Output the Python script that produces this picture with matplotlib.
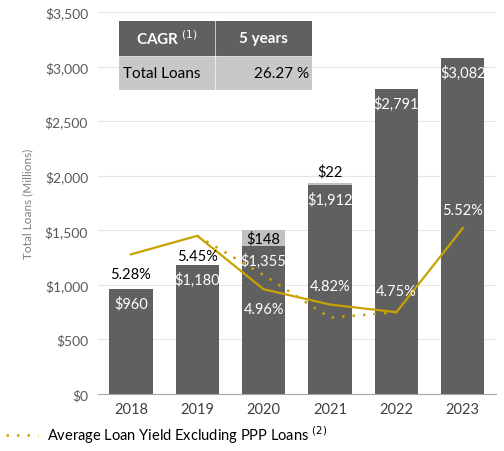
import matplotlib.pyplot as plt
from matplotlib.lines import Line2D
from matplotlib.ticker import FuncFormatter

plt.rcParams['font.family'] = ['Lato', 'DejaVu Sans']

years = ['2018', '2019', '2020', '2021', '2022', '2023']
loans = [960, 1180, 1355, 1912, 2791, 3082]
ppp_loans = [0, 0, 148, 22, 0, 0]
loan_yield = [5.28, 5.45, 4.96, 4.82, 4.75, 5.52]
yield_ex_ppp_years = ['2019', '2020', '2021', '2022']
yield_ex_ppp = [5.45, 5.09, 4.70, 4.75]

cagr_header = ['CAGR $^{(1)}$', '5 years']
cagr_row = ['Total Loans', '26.27 %']

bar_color = '#606060'
ppp_color = '#c0c0c0'
gold = '#c9a200'

fig = plt.figure(figsize=(5.04, 4.52), dpi=100)
ax = fig.add_axes([0.194, 0.126, 0.79, 0.845])

x = list(range(len(years)))
ax.bar(x, loans, width=0.65, color=bar_color, zorder=2)
ax.bar(x, ppp_loans, bottom=loans, width=0.65, color=ppp_color, zorder=2)

ax.set_xlim(-0.5, 5.5)
ax.set_ylim(0, 3500)
ax.set_yticks(range(0, 3501, 500))
ax.yaxis.set_major_formatter(FuncFormatter(lambda v, p: f'${v:,.0f}'))
ax.set_xticks(x)
ax.set_xticklabels(years)
ax.tick_params(axis='x', length=0, labelsize=10.5, colors='#404040', pad=6)
ax.tick_params(axis='y', length=0, labelsize=10, colors='#595959', pad=7)
ax.grid(axis='y', color='#e6e6e6', linewidth=0.8, zorder=0)
for side in ['top', 'right', 'left']:
    ax.spines[side].set_visible(False)
ax.spines['bottom'].set_color('#a6a6a6')
ax.set_ylabel('Total Loans (Millions)', fontsize=8.5, color='#7f7f7f', labelpad=8)

# loan balance labels near the top of each bar
for i, v in enumerate(loans):
    ax.text(i, v - 130, f'${v:,}', ha='center', va='center', color='white', fontsize=10.5, zorder=4)
for i, v in enumerate(ppp_loans):
    if v:
        y = loans[i] + v / 2 if v > 100 else loans[i] + v + 110
        ax.text(i, y, f'${v}', ha='center', va='center', color='black', fontsize=10.5, zorder=4)

# loan yield on a hidden secondary scale
ax2 = ax.twinx()
ax2.set_ylim(4.0, 7.5)
ax2.axis('off')
ax2.plot(x, loan_yield, color=gold, linewidth=1.6, zorder=3)
ax2.plot([years.index(y) for y in yield_ex_ppp_years], yield_ex_ppp,
         color=gold, linewidth=1.8, linestyle=(0, (1, 3.2)), zorder=3)

offsets = [-20, -20, -20, 19, 21, 18]
colors = ['black', 'black', 'white', 'white', 'white', 'white']
for i, v in enumerate(loan_yield):
    ax2.annotate(f'{v:.2f}%', (i, v), xytext=(0, offsets[i]), textcoords='offset pixels',
                 ha='center', va='center', color=colors[i], fontsize=10.5, zorder=5)

# CAGR table
tax = fig.add_axes([119 / 504, 1 - 91 / 452, 193 / 504, 69 / 452])
tax.set_xlim(0, 193)
tax.set_ylim(0, 69)
tax.axis('off')
split = 96
tax.add_patch(plt.Rectangle((0, 35), split - 1, 34, color=bar_color))
tax.add_patch(plt.Rectangle((split + 1, 35), 193 - split - 1, 34, color=bar_color))
tax.add_patch(plt.Rectangle((0, 0), split - 1, 33, color='#c8c8c8'))
tax.add_patch(plt.Rectangle((split + 1, 0), 193 - split - 1, 33, color='#c8c8c8'))
tax.text(split / 2, 52, cagr_header[0], ha='center', va='center', color='white',
         fontsize=11, fontweight='bold')
tax.text((split + 193) / 2, 52, cagr_header[1], ha='center', va='center', color='white',
         fontsize=11, fontweight='bold')
tax.text(4, 16.5, cagr_row[0], ha='left', va='center', color='black', fontsize=11)
tax.text(190, 16.5, cagr_row[1], ha='right', va='center', color='black', fontsize=11)

handle = Line2D([], [], color=gold, linewidth=1.8, linestyle=(0, (1, 3.2)))
fig.legend([handle], ['Average Loan Yield Excluding PPP Loans $^{(2)}$'],
           loc='lower left', bbox_to_anchor=(0.0, 0.0), frameon=False, borderpad=0.1,
           borderaxespad=0.3, fontsize=10.5, handlelength=2.2, handletextpad=0.6)

fig.savefig('out.png', dpi=100, facecolor='white')
